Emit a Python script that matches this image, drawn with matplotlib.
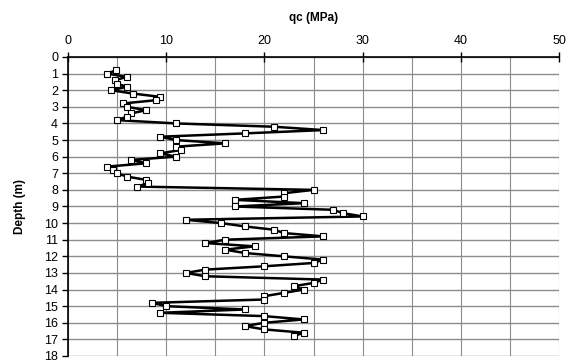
import matplotlib
matplotlib.use("Agg")
import matplotlib.pyplot as plt
from matplotlib.ticker import MultipleLocator

plt.rcParams['font.family'] = ['Liberation Sans', 'DejaVu Sans']

# CPT profile: depth (m) and cone resistance qc (MPa)
depth = [0.8, 1.0, 1.2, 1.4, 1.6, 1.8, 2.0, 2.2, 2.4, 2.6, 2.8, 3.0, 3.2, 3.4,
         3.6, 3.8, 4.0, 4.2, 4.4, 4.6, 4.8, 5.0, 5.2, 5.4, 5.6, 5.8, 6.0, 6.2,
         6.4, 6.6, 6.8, 7.0, 7.2, 7.4, 7.6, 7.8, 8.0, 8.2, 8.4, 8.6, 8.8, 9.0,
         9.2, 9.4, 9.6, 9.8, 10.0, 10.2, 10.4, 10.6, 10.8, 11.0, 11.2, 11.4,
         11.6, 11.8, 12.0, 12.2, 12.4, 12.6, 12.8, 13.0, 13.2, 13.4, 13.6, 13.8,
         14.0, 14.2, 14.4, 14.6, 14.8, 15.0, 15.2, 15.4, 15.6, 15.8, 16.0, 16.2,
         16.4, 16.6, 16.8]
qc = [4.9, 4.0, 6.0, 4.8, 5.0, 6.0, 4.4, 6.6, 9.4, 9.0, 5.6, 6.0, 8.0, 6.4,
      6.0, 5.0, 11.0, 21.0, 26.0, 18.0, 9.4, 11.0, 16.0, 11.0, 11.5, 9.4, 11.0, 6.4,
      8.0, 4.0, 4.6, 5.0, 6.0, 8.0, 8.2, 7.0, 25.0, 22.0, 22.0, 17.0, 24.0, 17.0,
      27.0, 28.0, 30.0, 12.0, 15.6, 18.0, 21.0, 22.0, 26.0, 16.0, 14.0, 19.0,
      16.0, 18.0, 22.0, 26.0, 25.0, 20.0, 14.0, 12.0, 14.0, 26.0, 25.0, 23.0,
      24.0, 22.0, 20.0, 20.0, 8.6, 10.0, 18.0, 9.4, 20.0, 24.0, 20.0, 18.0,
      20.0, 24.0, 23.0]

fig = plt.figure(figsize=(5.7, 3.62), dpi=100)
ax = fig.add_axes([0.119, 0.0166, 0.862, 0.826])

ax.plot(qc, depth, color='black', linewidth=1.8, marker='s', markersize=4.5,
        markerfacecolor='white', markeredgecolor='black', markeredgewidth=0.8,
        zorder=3)

ax.set_xlim(0, 50)
ax.set_ylim(18, 0)
ax.xaxis.set_major_locator(MultipleLocator(10))
ax.xaxis.set_minor_locator(MultipleLocator(5))
ax.yaxis.set_major_locator(MultipleLocator(1))
ax.xaxis.tick_top()
ax.xaxis.set_label_position('top')

ax.grid(which='both', axis='x', color='#8c8c8c', linewidth=0.8)
ax.grid(which='major', axis='y', color='#8c8c8c', linewidth=1.0)
ax.yaxis.get_gridlines()[-1].set_visible(False)
ax.yaxis.get_gridlines()[0].set_visible(False)

ax.spines['right'].set_visible(False)
ax.spines['bottom'].set_visible(False)
ax.spines['top'].set_linewidth(1.2)
ax.spines['left'].set_linewidth(1.2)

ax.tick_params(axis='x', which='major', direction='inout', length=7, width=1,
               labelsize=9, pad=4)
ax.tick_params(axis='x', which='minor', length=0)
ax.tick_params(axis='y', direction='out', length=4, width=1, labelsize=9, pad=3)

ax.set_xlabel('qc (MPa)', fontsize=8.5, fontweight='bold', labelpad=10)
ax.set_ylabel('Depth (m)', fontsize=8.5, fontweight='bold', labelpad=13)

fig.savefig('out.png', dpi=100)
